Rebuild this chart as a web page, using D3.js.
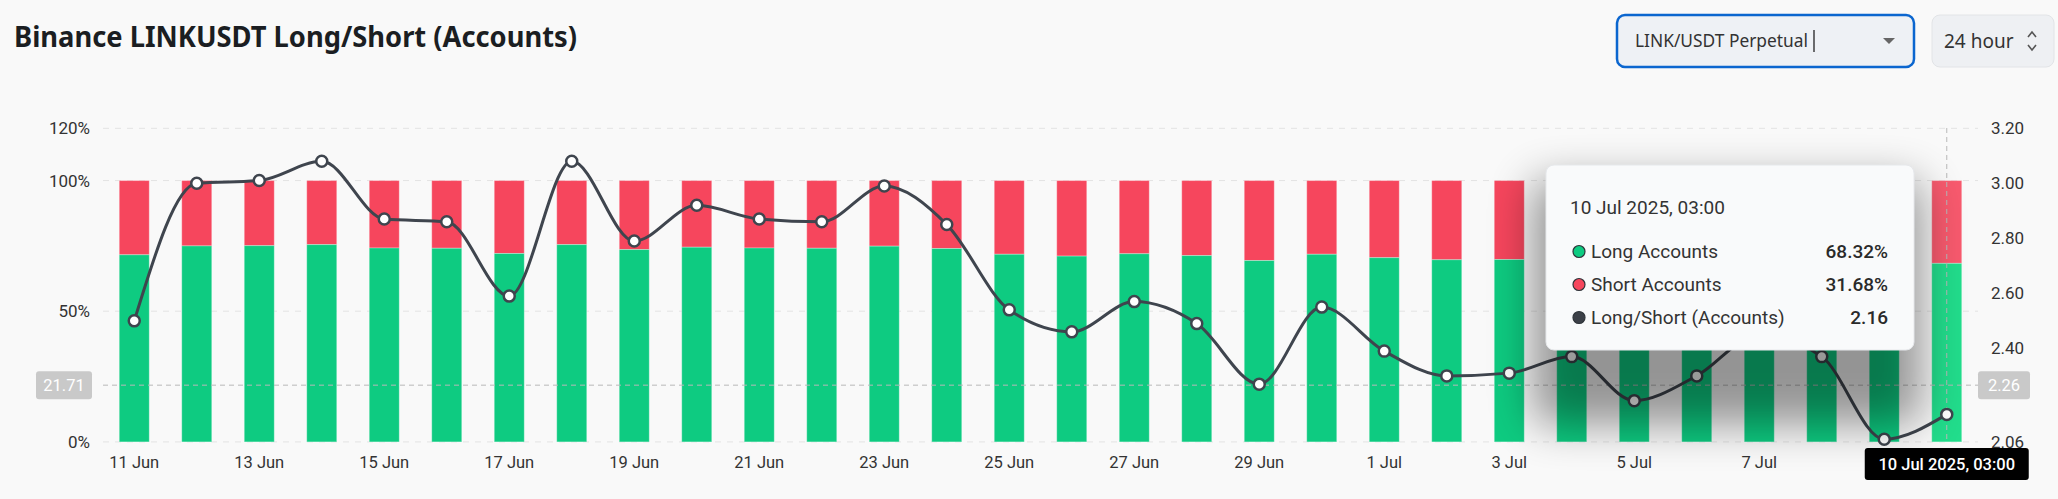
<!DOCTYPE html>
<html><head><meta charset="utf-8">
<script src="https://cdn.jsdelivr.net/npm/d3@7"></script>
<style>html,body{margin:0;padding:0;background:#f9f9f9;}svg{display:block;}</style>
</head><body>
<svg id="c" width="2058" height="499"></svg>
<script>
const dates=["11 Jun","12 Jun","13 Jun","14 Jun","15 Jun","16 Jun","17 Jun","18 Jun","19 Jun","20 Jun","21 Jun","22 Jun","23 Jun","24 Jun","25 Jun","26 Jun","27 Jun","28 Jun","29 Jun","30 Jun","1 Jul","2 Jul","3 Jul","4 Jul","5 Jul","6 Jul","7 Jul","8 Jul","9 Jul","10 Jul"];
const longPct=[71.6,75.0,75.1,75.5,74.2,74.1,72.1,75.5,73.6,74.5,74.2,74.1,74.9,74.0,71.8,71.1,72.0,71.3,69.4,71.8,70.5,69.7,69.8,70.3,68.8,69.7,71.0,70.3,67.4,68.32];
const shortPct=[28.4,25.0,24.9,24.5,25.8,25.9,27.9,24.5,26.4,25.5,25.8,25.9,25.1,26.0,28.2,28.9,28.0,28.7,30.6,28.2,29.5,30.3,30.2,29.7,31.2,30.3,29.0,29.7,32.6,31.68];
const ratio=[2.50,3.00,3.01,3.08,2.87,2.86,2.59,3.08,2.79,2.92,2.87,2.86,2.99,2.85,2.54,2.46,2.57,2.49,2.27,2.55,2.39,2.30,2.31,2.37,2.21,2.30,2.45,2.37,2.07,2.16];
const xTickLabels=["11 Jun","13 Jun","15 Jun","17 Jun","19 Jun","21 Jun","23 Jun","25 Jun","27 Jun","29 Jun","1 Jul","3 Jul","5 Jul","7 Jul"];
const leftTicks=[0,0.5,1.0,1.2];
const rightTicks=[2.06,2.40,2.60,2.80,3.00,3.20];
const title="Binance LINKUSDT Long/Short (Accounts)";
const pairLabel="LINK/USDT Perpetual";
const periodLabel="24 hour";
const hoverIndex=29;
const hoverTitle="10 Jul 2025, 03:00";
const cursorLeft="21.71", cursorRight="2.26", cursorLeftValue=0.2171;

const svg=d3.select("#c");
const FONT="Roboto, 'Noto Sans', sans-serif";
const GREEN="#0ecb81", RED="#f6465d", LINE="#3f454e";

const defs=svg.append("defs");
const f=defs.append("filter").attr("id","blur").attr("x","-50%").attr("y","-50%").attr("width","200%").attr("height","200%");
f.append("feGaussianBlur").attr("stdDeviation",22);

// Title
svg.append("text").attr("x",14).attr("y",47).attr("font-family","'Noto Sans', 'Open Sans', sans-serif")
  .attr("font-weight",700).attr("font-size",28).attr("fill","#1b1e22")
  .attr("textLength",563).attr("lengthAdjust","spacingAndGlyphs").text(title);

// Controls
svg.append("rect").attr("x",1617).attr("y",15).attr("width",297).attr("height",52).attr("rx",8)
  .attr("fill","#eef1f5").attr("stroke","#0b66cf").attr("stroke-width",2.5);
svg.append("text").attr("x",1635).attr("y",47).attr("font-family","'Noto Sans', sans-serif").attr("font-size",17.5)
  .attr("fill","#333").attr("textLength",173).attr("lengthAdjust","spacingAndGlyphs").text(pairLabel);
svg.append("line").attr("x1",1814).attr("x2",1814).attr("y1",30).attr("y2",52).attr("stroke","#111").attr("stroke-width",1.2);
svg.append("path").attr("d","M1883,38 L1895,38 L1889,44 Z").attr("fill","#666");
svg.append("rect").attr("x",1932).attr("y",15).attr("width",122).attr("height",52).attr("rx",8)
  .attr("fill","#eef0f3").attr("stroke","#e2e4e7").attr("stroke-width",1);
svg.append("text").attr("x",1944).attr("y",48).attr("font-family","'Noto Sans', sans-serif").attr("font-size",19)
  .attr("fill","#333").text(periodLabel);
svg.append("path").attr("d","M2028,37 L2032,32 L2036,37 M2028,45 L2032,50 L2036,45").attr("fill","none").attr("stroke","#555").attr("stroke-width",1.6);

// Scales
const x=d3.scaleBand().domain(dates).range([103,1978]).paddingInner(0.52).paddingOuter(0.26);
const yL=d3.scaleLinear().domain([0,1.2]).range([441.9,128.3]);
const yR=d3.scaleLinear().domain([2.06,3.2]).range([441.9,128.3]);
const cx=d=>x(d)+x.bandwidth()/2;

// Gridlines
svg.append("g").selectAll("line").data(leftTicks).join("line")
  .attr("x1",103).attr("x2",1978).attr("y1",d=>yL(d)).attr("y2",d=>yL(d))
  .attr("stroke","#e3e3e3").attr("stroke-dasharray","6,6").attr("stroke-width",1);

// Axes
const axL=d3.axisLeft(yL).tickValues(leftTicks).tickFormat(d=>Math.round(d*100)+"%").tickSize(0).tickPadding(0);
const gL=svg.append("g").attr("transform","translate(90,0)").call(axL);
gL.select(".domain").remove();
gL.selectAll("text").attr("font-family",FONT).attr("font-size",17).attr("fill","#333");

const axR=d3.axisRight(yR).tickValues(rightTicks).tickFormat(d3.format(".2f")).tickSize(0).tickPadding(0);
const gR=svg.append("g").attr("transform","translate(1991,0)").call(axR);
gR.select(".domain").remove();
gR.selectAll("text").attr("font-family",FONT).attr("font-size",17).attr("fill","#333");

const axB=d3.axisBottom(x).tickValues(xTickLabels).tickSize(0).tickPadding(0);
const gB=svg.append("g").attr("transform","translate(0,457)").call(axB);
gB.select(".domain").remove();
gB.selectAll("text").attr("font-family",FONT).attr("font-size",16.5).attr("fill","#333").attr("dy","0.32em").attr("y",6);

// Bars
const bars=svg.append("g");
dates.forEach((d,i)=>{
  const hi=i===hoverIndex;
  bars.append("rect").attr("x",x(d)).attr("width",x.bandwidth())
    .attr("y",yL(1)).attr("height",yL(longPct[i]/100)-yL(1))
    .attr("fill",hi?"#f85a6e":RED).attr("stroke","#ffffff").attr("stroke-opacity",0.3).attr("stroke-width",1);
  bars.append("rect").attr("x",x(d)).attr("width",x.bandwidth())
    .attr("y",yL(longPct[i]/100)).attr("height",yL(0)-yL(longPct[i]/100))
    .attr("fill",hi?"#22dd8c":GREEN).attr("stroke","#ffffff").attr("stroke-opacity",0.3).attr("stroke-width",1);
});

// Crosshair
const hx=cx(dates[hoverIndex]);
svg.append("line").attr("x1",hx).attr("x2",hx).attr("y1",128).attr("y2",442)
  .attr("stroke","#b8b8b8").attr("stroke-dasharray","5,4").attr("stroke-width",1);
const hy=yL(cursorLeftValue);
svg.append("line").attr("x1",103).attr("x2",1978).attr("y1",hy).attr("y2",hy)
  .attr("stroke","#b8b8b8").attr("stroke-dasharray","5,4").attr("stroke-width",1);

// Line
const line=d3.line().x((d,i)=>cx(dates[i])).y(d=>yR(d)).curve(d3.curveMonotoneX);
svg.append("path").datum(ratio).attr("d",line).attr("fill","none").attr("stroke",LINE).attr("stroke-width",3);
svg.append("g").selectAll("circle").data(ratio).join("circle")
  .attr("cx",(d,i)=>cx(dates[i])).attr("cy",d=>yR(d)).attr("r",5.5)
  .attr("fill","#fff").attr("stroke",LINE).attr("stroke-width",2.5);

// Axis pointer labels
function pill(cxp,cyp,w,h,fill,txt,tcol,fs,fw){
  svg.append("rect").attr("x",cxp-w/2).attr("y",cyp-h/2).attr("width",w).attr("height",h).attr("rx",3).attr("fill",fill);
  svg.append("text").attr("x",cxp).attr("y",cyp).attr("dy","0.35em").attr("text-anchor","middle")
    .attr("font-family",FONT).attr("font-size",fs).attr("font-weight",fw).attr("fill",tcol).text(txt);
}
pill(64,hy,56,28,"#c9c9c9",cursorLeft,"#fff",16.5,400);
pill(2004,hy,52,28,"#c9c9c9",cursorRight,"#fff",16.5,400);

// Tooltip shadow + box
const tt=svg.append("g");
tt.append("rect").attr("x",1532).attr("y",180).attr("width",390).attr("height",245).attr("rx",16)
  .attr("fill","#000").attr("opacity",0.4).attr("filter","url(#blur)");
tt.append("rect").attr("x",1546).attr("y",165).attr("width",368).attr("height",185).attr("rx",8)
  .attr("fill","#f9fafb").attr("stroke","#e6e8eb").attr("stroke-width",1);
tt.append("text").attr("x",1570).attr("y",214).attr("font-family",FONT).attr("font-size",19).attr("fill","#333").text(hoverTitle);
const rows=[["Long Accounts",longPct[hoverIndex].toFixed(2)+"%",GREEN],["Short Accounts",shortPct[hoverIndex].toFixed(2)+"%",RED],["Long/Short (Accounts)",ratio[hoverIndex].toFixed(2),"#3c4048"]];
rows.forEach((r,i)=>{
  const by=258+i*33;
  tt.append("circle").attr("cx",1579).attr("cy",by-6.5).attr("r",6).attr("fill",r[2]).attr("stroke","#2f343a").attr("stroke-width",1.2);
  tt.append("text").attr("x",1591).attr("y",by).attr("font-family",FONT).attr("font-size",19).attr("fill","#333").text(r[0]);
  tt.append("text").attr("x",1888).attr("y",by).attr("text-anchor","end").attr("font-family",FONT).attr("font-size",19).attr("font-weight",500).attr("fill","#2a2a2a").text(r[1]);
});

pill(hx,464,164,32,"#000",hoverTitle,"#fff",16.5,500);
</script>
</body></html>
